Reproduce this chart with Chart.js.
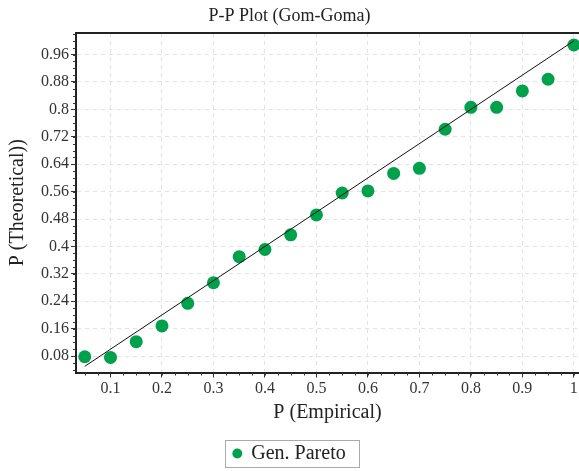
<!DOCTYPE html>
<html>
<head>
<meta charset="utf-8">
<script src="https://cdn.jsdelivr.net/npm/chart.js"></script>
<style>
  html, body { margin: 0; padding: 0; background: #fff; }
  #wrap { width: 579px; height: 471px; }
</style>
</head>
<body>
<div id="wrap"><canvas id="ppChart" width="579" height="471"></canvas></div>
<script>
const empirical = [0.05, 0.1, 0.15, 0.2, 0.25, 0.3, 0.35, 0.4, 0.45, 0.5,
                   0.55, 0.6, 0.65, 0.7, 0.75, 0.8, 0.85, 0.9, 0.95, 1.0];
const theoretical = [0.078, 0.076, 0.122, 0.168, 0.234, 0.294, 0.370, 0.391, 0.434, 0.492,
                     0.556, 0.562, 0.613, 0.628, 0.742, 0.806, 0.806, 0.854, 0.888, 0.988];
const refLineX = [0.05, 1.0];
const refLineY = [0.05, 1.0];

const xTickValues = [0.1, 0.2, 0.3, 0.4, 0.5, 0.6, 0.7, 0.8, 0.9, 1.0];
const xTickLabels = ["0.1", "0.2", "0.3", "0.4", "0.5", "0.6", "0.7", "0.8", "0.9", "1"];
const yTickValues = [0.08, 0.16, 0.24, 0.32, 0.4, 0.48, 0.56, 0.64, 0.72, 0.8, 0.88, 0.96];
const yTickLabels = ["0.08", "0.16", "0.24", "0.32", "0.4", "0.48", "0.56", "0.64", "0.72", "0.8", "0.88", "0.96"];

const serif = "'Liberation Serif', 'Times New Roman', serif";

// minor tick marks + top frame line + box round the legend
const extras = {
  id: "extras",
  afterDraw(chart) {
    const ctx = chart.ctx;
    const area = chart.chartArea;
    const xs = chart.scales.x, ys = chart.scales.y;
    ctx.save();
    ctx.strokeStyle = "#333";
    ctx.lineWidth = 1;
    ctx.beginPath();
    for (let v = 0.05; v <= xs.max + 1e-9; v += 0.025) {
      const px = Math.round(xs.getPixelForValue(v)) + 0.5;
      ctx.moveTo(px, area.bottom);
      ctx.lineTo(px, area.bottom + 3);
    }
    for (let v = 0.04; v <= ys.max + 1e-9; v += 0.02) {
      const py = Math.round(ys.getPixelForValue(v)) + 0.5;
      ctx.moveTo(area.left - 3, py);
      ctx.lineTo(area.left, py);
    }
    ctx.stroke();

    ctx.strokeStyle = "#222";
    ctx.lineWidth = 2;
    ctx.beginPath();
    ctx.moveTo(area.left, area.top);
    ctx.lineTo(area.right, area.top);
    ctx.stroke();

    const hb = chart.legend.legendHitBoxes[0];
    if (hb) {
      const cy = hb.top + hb.height / 2;
      ctx.strokeStyle = "#aaa";
      ctx.lineWidth = 1;
      ctx.strokeRect(Math.round(hb.left - 8) + 0.5, Math.round(cy - 13.5) + 0.5,
                     Math.round(hb.width + 22), 27);
    }
    ctx.restore();
  }
};

const ctx = document.getElementById("ppChart").getContext("2d");
const myChart = new Chart(ctx, {
  type: "scatter",
  data: {
    datasets: [
      {
        label: "ref",
        type: "line",
        data: refLineX.map((x, i) => ({ x: x, y: refLineY[i] })),
        borderColor: "#111",
        borderWidth: 1,
        pointRadius: 0,
        fill: false,
      },
      {
        label: "Gen. Pareto",
        data: empirical.map((x, i) => ({ x: x, y: theoretical[i] })),
        backgroundColor: "#00a14b",
        borderColor: "#00a14b",
        borderWidth: 0,
        pointRadius: 6.5,
        pointStyle: "circle",
      },
    ],
  },
  options: {
    responsive: false,
    animation: false,
    devicePixelRatio: 1,
    layout: { padding: 0, autoPadding: false },
    plugins: {
      title: {
        display: true,
        text: "P-P Plot (Gom-Goma)",
        color: "#222",
        font: { family: serif, size: 18, weight: "normal", lineHeight: 1.2 },
        padding: { top: 5, bottom: 6.4 },
      },
      legend: {
        position: "bottom",
        maxHeight: 33.5,
        labels: {
          filter: (item) => item.text !== "ref",
          usePointStyle: true,
          boxWidth: 8,
          boxHeight: 7,
          color: "#222",
          font: { family: serif, size: 20 },
          padding: 6,
        },
      },
      tooltip: { enabled: false },
    },
    scales: {
      x: {
        type: "linear",
        min: 0.033,
        max: 1.01,
        afterBuildTicks: (s) => { s.ticks = xTickValues.map((v) => ({ value: v })); },
        afterFit: (s) => { s.height = 65; s.paddingRight = 0; s.paddingLeft = 0; },
        ticks: {
          color: "#333",
          font: { family: serif, size: 16 },
          padding: 2,
          maxRotation: 0,
          callback: (v, i) => xTickLabels[i],
        },
        grid: { color: "#e3e3e3", tickColor: "#333", tickLength: 5, tickBorderDash: [] },
        border: { color: "#222", width: 2, dash: [4, 4] },
        title: {
          display: true,
          text: "P (Empirical)",
          color: "#222",
          font: { family: serif, size: 20 },
          padding: { top: 0, bottom: 13 },
        },
      },
      y: {
        type: "linear",
        min: 0.032,
        max: 1.023,
        afterBuildTicks: (s) => { s.ticks = yTickValues.map((v) => ({ value: v })); },
        afterFit: (s) => { s.width = 76; s.paddingTop = 0; s.paddingBottom = 0; },
        ticks: {
          color: "#333",
          font: { family: serif, size: 16 },
          padding: 2,
          callback: (v, i) => yTickLabels[i],
        },
        grid: { color: "#e3e3e3", tickColor: "#333", tickLength: 5, tickBorderDash: [] },
        border: { color: "#222", width: 2, dash: [4, 4] },
        title: {
          display: true,
          text: "P (Theoretical))",
          color: "#222",
          font: { family: serif, size: 20 },
          padding: { top: 6, bottom: 0 },
        },
      },
    },
  },
  plugins: [extras],
});
</script>
</body>
</html>
